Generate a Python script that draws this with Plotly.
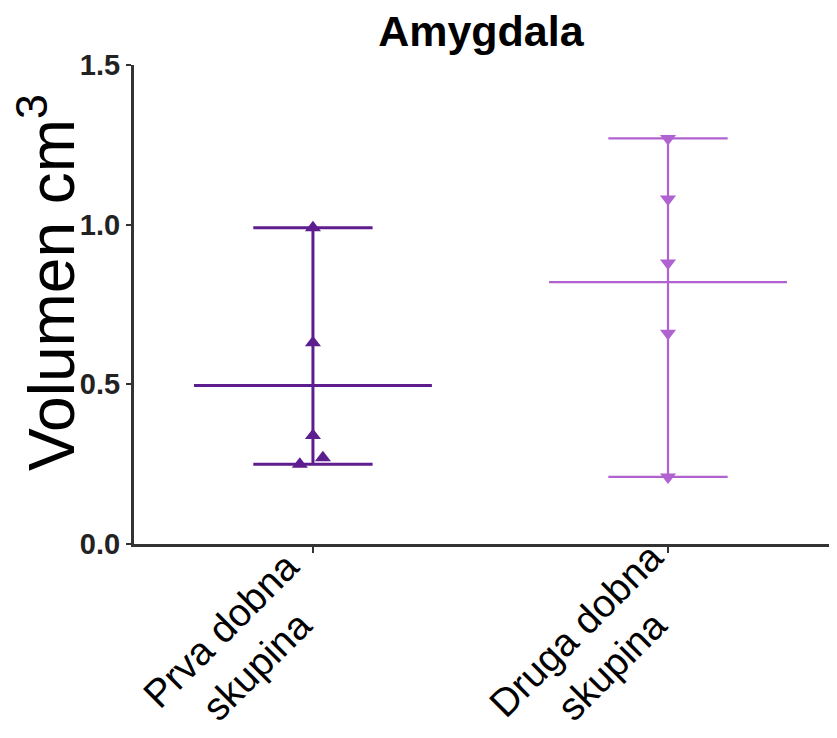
import plotly.graph_objects as go
import numpy as np

categories = ["Prva dobna<br>skupina", "Druga dobna<br>skupina"]
group1_values = [0.99, 0.63, 0.34, 0.25, 0.27]
group1_offsets = [0.0, 0.0, 0.0, -0.037, 0.028]
group2_values = [1.27, 1.08, 0.88, 0.66, 0.21]
group2_offsets = [0.0, 0.0, 0.0, 0.0, 0.0]
colors = ["#5e1d8e", "#b062d0"]
symbols = ["triangle-up", "triangle-down"]
yticks = [0.0, 0.5, 1.0, 1.5]

FONT = "Liberation Sans, Arial, sans-serif"
fig = go.Figure()

groups = [(group1_values, group1_offsets), (group2_values, group2_offsets)]
line_widths = [3, 2.2]
for i, (vals, offs) in enumerate(groups):
    v = np.array(vals)
    mean, lo, hi = v.mean(), v.min(), v.max()
    c = colors[i]
    lw = line_widths[i]
    fig.add_trace(go.Scatter(x=[i, i], y=[lo, hi], mode="lines",
                             line=dict(color=c, width=lw), showlegend=False, hoverinfo="skip"))
    for yv in (lo, hi):
        fig.add_trace(go.Scatter(x=[i - 0.168, i + 0.168], y=[yv, yv], mode="lines",
                                 line=dict(color=c, width=lw), showlegend=False, hoverinfo="skip"))
    fig.add_trace(go.Scatter(x=[i - 0.335, i + 0.335], y=[mean, mean], mode="lines",
                             line=dict(color=c, width=lw), showlegend=False, hoverinfo="skip"))
    fig.add_trace(go.Scatter(x=[i + o for o in offs], y=vals, mode="markers",
                             marker=dict(symbol=symbols[i], color=c, size=14),
                             showlegend=False))

# category labels (rotated, two lines) placed under each tick
for i, lab in enumerate(categories):
    fig.add_annotation(x=i, xref="x", y=-0.217, yref="paper", xshift=-74,
                       text=lab, textangle=-45, showarrow=False,
                       xanchor="center", yanchor="middle", align="center",
                       font=dict(family=FONT, size=39, color="black"))

# y-axis title
fig.add_annotation(x=-0.1236, xref="paper", y=0.545, yref="paper",
                   text="Volumen cm<sup>3</sup>", textangle=-90, showarrow=False,
                   xanchor="center", yanchor="middle",
                   font=dict(family=FONT, size=64, color="black"))

fig.update_layout(
    width=837, height=738,
    paper_bgcolor="white", plot_bgcolor="white",
    margin=dict(l=126, r=8, t=57, b=202),
    title=dict(text="<b>Amygdala</b>", x=0.565, xanchor="center", y=0.969, yanchor="middle",
               font=dict(family=FONT, size=43, color="black")),
    font=dict(family=FONT, color="black"),
)
fig.update_xaxes(
    range=[-0.504, 1.476], tickvals=[0, 1], showticklabels=False,
    showline=True, linecolor="#333333", linewidth=3, automargin=False,
    ticks="outside", ticklen=6, tickwidth=2, tickcolor="#333333",
    showgrid=False, zeroline=False,
)
fig.update_yaxes(
    range=[0, 1.5], tickvals=yticks, ticktext=[f"{t:.1f}" for t in yticks],
    tickfont=dict(family=FONT, size=29, color="#222222", weight="bold"),
    showline=True, linecolor="#333333", linewidth=3, automargin=False,
    ticks="outside", ticklen=5, tickwidth=2, tickcolor="#333333",
    showgrid=False, zeroline=False,
)

fig.write_html("out.html")
